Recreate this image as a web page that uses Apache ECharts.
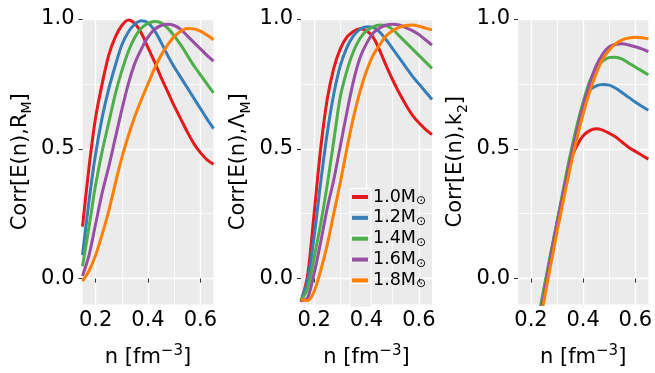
<!DOCTYPE html>
<html><head><meta charset="utf-8">
<script src="https://cdn.jsdelivr.net/npm/echarts@6/dist/echarts.min.js"></script>
<style>html,body{margin:0;padding:0;background:#fff}#c{width:655px;height:373px}</style>
</head><body><div id="c"></div>
<script>
// ---------- data ----------
const masses = ['1.0', '1.2', '1.4', '1.6', '1.8'];
const colors = ['#E41A1C', '#377EB8', '#4DAF4A', '#984EA3', '#FF7F00'];

const nA = [0.15,0.175,0.2,0.225,0.25,0.275,0.3,0.325,0.35,0.375,0.4,0.425,0.45,0.475,0.5,0.525,0.55,0.575,0.6,0.625,0.65];
const nK = [0.225,0.25,0.275,0.3,0.325,0.35,0.375,0.4,0.425,0.45,0.475,0.5,0.525,0.55,0.575,0.6,0.625,0.65];

// Corr[E(n), R_M]
const corrR_10 = [0.20,0.43,0.62,0.75,0.86,0.93,0.975,0.996,0.982,0.945,0.89,0.835,0.775,0.72,0.665,0.615,0.565,0.52,0.485,0.458,0.44];
const corrR_12 = [0.09,0.30,0.48,0.62,0.73,0.82,0.90,0.95,0.98,0.993,0.985,0.955,0.91,0.86,0.815,0.775,0.735,0.695,0.655,0.615,0.578];
const corrR_14 = [0.047,0.20,0.36,0.49,0.60,0.71,0.80,0.875,0.93,0.965,0.983,0.99,0.985,0.965,0.935,0.90,0.86,0.82,0.785,0.75,0.715];
const corrR_16 = [0.01,0.09,0.21,0.33,0.43,0.54,0.65,0.75,0.83,0.885,0.93,0.96,0.975,0.98,0.975,0.96,0.935,0.91,0.885,0.86,0.838];
const corrR_18 = [-0.01,0.03,0.09,0.17,0.26,0.365,0.465,0.55,0.625,0.69,0.75,0.81,0.86,0.90,0.932,0.953,0.963,0.962,0.953,0.938,0.92];

// Corr[E(n), Lambda_M]
const corrL_10 = [-0.09,0.01,0.25,0.50,0.69,0.81,0.885,0.93,0.952,0.962,0.955,0.93,0.88,0.82,0.765,0.715,0.67,0.63,0.60,0.575,0.555];
const corrL_12 = [-0.085,-0.01,0.16,0.37,0.56,0.71,0.82,0.89,0.935,0.96,0.97,0.968,0.95,0.92,0.885,0.85,0.815,0.78,0.75,0.72,0.69];
const corrL_14 = [-0.085,-0.04,0.08,0.21,0.36,0.53,0.70,0.80,0.875,0.925,0.955,0.97,0.977,0.974,0.96,0.935,0.91,0.885,0.86,0.835,0.81];
const corrL_16 = [-0.085,-0.075,0.02,0.14,0.27,0.38,0.51,0.64,0.76,0.85,0.905,0.945,0.965,0.977,0.98,0.977,0.967,0.955,0.94,0.92,0.90];
const corrL_18 = [-0.08,-0.085,-0.05,0.03,0.13,0.25,0.37,0.50,0.62,0.72,0.80,0.86,0.90,0.935,0.955,0.968,0.975,0.977,0.972,0.965,0.958];

// Corr[E(n), k2]
const corrK_10 = [-0.18,-0.05,0.085,0.215,0.335,0.45,0.51,0.55,0.57,0.577,0.572,0.56,0.545,0.525,0.505,0.49,0.475,0.46];
const corrK_12 = [-0.18,-0.045,0.09,0.215,0.34,0.46,0.575,0.675,0.725,0.742,0.748,0.745,0.733,0.716,0.698,0.68,0.664,0.648];
const corrK_14 = [-0.165,-0.035,0.095,0.22,0.35,0.475,0.585,0.68,0.76,0.81,0.838,0.852,0.853,0.845,0.83,0.815,0.80,0.785];
const corrK_16 = [-0.20,-0.06,0.08,0.21,0.335,0.455,0.565,0.665,0.75,0.82,0.865,0.893,0.903,0.905,0.90,0.893,0.885,0.874];
const corrK_18 = [-0.22,-0.085,0.05,0.18,0.305,0.425,0.535,0.635,0.72,0.79,0.845,0.88,0.905,0.92,0.927,0.93,0.928,0.924];

const xTicks = [0.2, 0.4, 0.6];
const xMinor = [0.3, 0.5];
const yTicks = [0.0, 0.5, 1.0];
const yMinor = [0.25, 0.75];

// ---------- chart ----------
const FONT = 'DejaVu Sans';
const panels = [
  {x: nA, ys: [corrR_10, corrR_12, corrR_14, corrR_16, corrR_18], sym: 'R', left: 82.5},
  {x: nA, ys: [corrL_10, corrL_12, corrL_14, corrL_16, corrL_18], sym: 'Λ', left: 301},
  {x: nK, ys: [corrK_10, corrK_12, corrK_14, corrK_16, corrK_18], sym: 'k', sub: '2', left: 518}
];
const X0 = 0.15, X1 = 0.65, Y0 = -0.1, Y1 = 1.0;

const richMain = {
  a: {fontSize: 21, lineHeight: 28, color: '#000', fontFamily: FONT},
  s: {fontSize: 14, lineHeight: 14, color: '#000', fontFamily: FONT, verticalAlign: 'bottom'},
  p: {fontSize: 15, lineHeight: 15, color: '#000', fontFamily: FONT, verticalAlign: 'top'}
};

const grids = [], xAxes = [], yAxes = [], series = [];
panels.forEach((p, k) => {
  grids.push({left: p.left, top: 19, width: 131, height: 291, show: true, backgroundColor: '#EBEBEB', borderWidth: 0, containLabel: false});
  xAxes.push({
    type: 'value', gridIndex: k, min: X0, max: X1,
    axisLine: {show: false},
    axisTick: {show: true, customValues: xTicks, length: 4, lineStyle: {color: '#333', width: 1}},
    axisLabel: {customValues: xTicks, formatter: v => v.toFixed(1), fontSize: 21, color: '#000', fontFamily: FONT, margin: 6},
    splitLine: {show: true, lineStyle: {color: '#ffffff', width: 1.3}},
    name: '{a|n [fm}{p|−3}{a|]}', nameLocation: 'middle', nameGap: 39,
    nameTextStyle: {rich: richMain}
  });
  yAxes.push({
    type: 'value', gridIndex: k, min: Y0, max: Y1,
    axisLine: {show: false},
    axisTick: {show: true, customValues: yTicks, length: 4, lineStyle: {color: '#333', width: 1}},
    axisLabel: {customValues: yTicks, formatter: v => v.toFixed(1), fontSize: 21, color: '#000', fontFamily: FONT, margin: 8},
    splitLine: {show: true, lineStyle: {color: '#ffffff', width: 1.3}},
    name: '{a|Corr[E(n),' + p.sym + '}{s|' + (p.sub || 'M') + '}{a|]}',
    nameLocation: 'middle', nameRotate: 90, nameGap: 48,
    nameTextStyle: {rich: richMain}
  });
  p.ys.forEach((arr, i) => {
    series.push({
      type: 'line', name: masses[i], xAxisIndex: k, yAxisIndex: k,
      data: p.x.map((v, j) => [v, arr[j]]),
      smooth: 0.3, showSymbol: false, symbol: 'none',
      lineStyle: {color: colors[i], width: 3}, itemStyle: {color: colors[i]},
      clip: true, silent: true, z: 2
    });
  });
});
// minor grid lines: extra hidden axes on each grid
panels.forEach((p, k) => {
  xAxes.push({
    type: 'value', gridIndex: k, min: X0, max: X1, position: 'bottom',
    axisLine: {show: false}, axisLabel: {show: false},
    axisTick: {show: false, customValues: xMinor},
    splitLine: {show: true, lineStyle: {color: 'rgba(255,255,255,0.75)', width: 1}}
  });
  yAxes.push({
    type: 'value', gridIndex: k, min: Y0, max: Y1, position: 'left',
    axisLine: {show: false}, axisLabel: {show: false},
    axisTick: {show: false, customValues: yMinor},
    splitLine: {show: true, lineStyle: {color: 'rgba(255,255,255,0.75)', width: 1}}
  });
});

const keyRects = masses.map((m, i) => ({
  type: 'rect', left: 349.5, top: 188 + i * 23.7, z: 3,
  shape: {width: 21, height: 23.7},
  style: {fill: '#EBEBEB', stroke: '#ffffff', lineWidth: 1}
}));

const chart = echarts.init(document.getElementById('c'), null, {renderer: 'canvas'});
chart.setOption({
  animation: false,
  backgroundColor: '#ffffff',
  textStyle: {fontFamily: FONT},
  grid: grids, xAxis: xAxes, yAxis: yAxes, series: series,
  graphic: keyRects,
  legend: {
    data: masses, orient: 'vertical', left: 352, top: 188, padding: 0,
    itemWidth: 16, itemHeight: 4, itemGap: 0, icon: 'rect', selectedMode: false,
    formatter: n => '{a|' + n + 'M}{s|⊙}',
    textStyle: {rich: {
      a: {fontSize: 17.5, lineHeight: 23.7, color: '#000', fontFamily: FONT},
      s: {fontSize: 12, lineHeight: 12, color: '#000', fontFamily: FONT, verticalAlign: 'bottom', padding: [0, 0, 2, 0]}
    }},
    z: 5
  }
});
</script></body></html>
